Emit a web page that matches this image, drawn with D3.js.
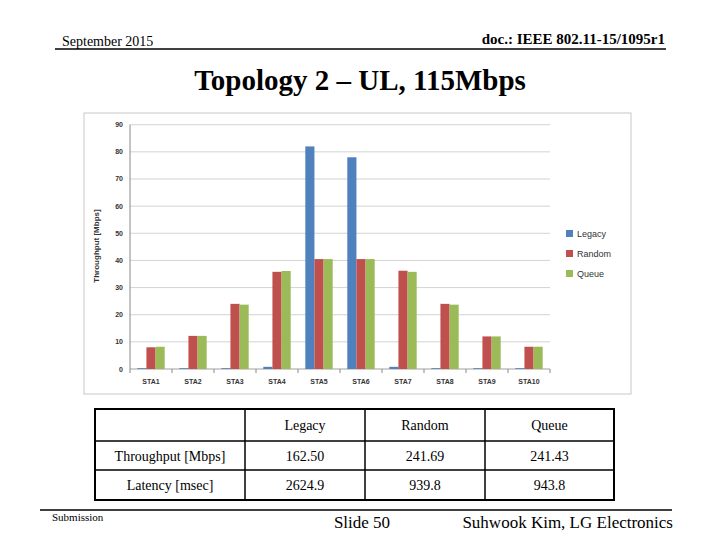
<!DOCTYPE html>
<html><head><meta charset="utf-8">
<script src="https://cdn.jsdelivr.net/npm/d3@7"></script>
<style>body{margin:0;background:#fff}svg{display:block}</style>
</head><body>
<svg id="c" width="720" height="540"></svg>
<script>
var stations = ["STA1","STA2","STA3","STA4","STA5","STA6","STA7","STA8","STA9","STA10"];
var seriesNames = ["Legacy","Random","Queue"];
var seriesColors = ["#4f81bd","#c0504d","#9bbb59"];
var legacy = [0.3,0.3,0.3,0.8,82,78,0.8,0.3,0.3,0.3];
var random = [8,12.2,24,35.8,40.5,40.5,36.2,24,12,8.2];
var queue = [8.2,12.2,23.7,36.1,40.5,40.5,35.8,23.7,12,8.2];
var yTicks = [0,10,20,30,40,50,60,70,80,90];
var tableHeader = ["","Legacy","Random","Queue"];
var tableRows = [["Throughput [Mbps]","162.50","241.69","241.43"],["Latency [msec]","2624.9","939.8","943.8"]];

var svg = d3.select("#c");
var serif = "'Liberation Serif', 'Times New Roman', serif";

// slide header
svg.append("text").attr("x",62).attr("y",46).attr("font-family",serif).attr("font-size",14).text("September 2015");
svg.append("text").attr("x",665).attr("y",44).attr("text-anchor","end").attr("font-family",serif).attr("font-size",15).attr("font-weight","bold").text("doc.: IEEE 802.11-15/1095r1");
svg.append("line").attr("x1",55).attr("x2",666).attr("y1",49).attr("y2",49).attr("stroke","#000").attr("stroke-width",1.5);
svg.append("text").attr("x",360).attr("y",90).attr("text-anchor","middle").attr("font-family",serif).attr("font-size",29).attr("font-weight","bold").text("Topology 2 \u2013 UL, 115Mbps");

// chart frame
svg.append("rect").attr("x",84).attr("y",113).attr("width",547).attr("height",281).attr("fill","#fff").attr("stroke","#c8c8c8");

var x = d3.scaleBand().domain(stations).range([130,550]);
var xs = d3.scaleBand().domain(seriesNames).range([0,x.bandwidth()]).paddingInner(0).paddingOuter(0.8);
var y = d3.scaleLinear().domain([0,90]).range([369,124.7]);

var g = svg.append("g").attr("font-family","Arial, 'Liberation Sans', sans-serif");
g.selectAll(".grid").data(yTicks).enter().append("line")
  .attr("x1",130).attr("x2",550).attr("y1",function(d){return y(d);}).attr("y2",function(d){return y(d);})
  .attr("stroke",function(d){return d==0?"#888":"#c8c8c8";}).attr("stroke-width",0.8);
g.append("line").attr("x1",130).attr("x2",130).attr("y1",124.7).attr("y2",369).attr("stroke","#888");
g.selectAll(".yl").data(yTicks).enter().append("text")
  .attr("x",123).attr("y",function(d){return y(d)+2.5;}).attr("text-anchor","end").attr("font-size",7).attr("font-weight","bold").attr("fill","#333").text(function(d){return d;});
g.selectAll(".xt").data(stations.concat(["end"])).enter().append("line")
  .attr("x1",function(d,i){return 130+i*x.step();}).attr("x2",function(d,i){return 130+i*x.step();})
  .attr("y1",369).attr("y2",373).attr("stroke","#888");
g.selectAll(".xl").data(stations).enter().append("text")
  .attr("x",function(d){return x(d)+x.bandwidth()/2;}).attr("y",384).attr("text-anchor","middle")
  .attr("font-size",7).attr("font-weight","bold").attr("fill","#333").text(function(d){return d;});
g.append("text").attr("transform","translate(99,246) rotate(-90)").attr("text-anchor","middle")
  .attr("font-size",8).attr("font-weight","bold").attr("fill","#333").text("Throughput [Mbps]");

var allSeries = [legacy,random,queue];
allSeries.forEach(function(vals,si){
  g.selectAll(".b"+si).data(vals).enter().append("rect")
    .attr("x",function(d,i){return x(stations[i])+xs(seriesNames[si]);})
    .attr("width",xs.bandwidth())
    .attr("y",function(d){return y(d);})
    .attr("height",function(d){return 369-y(d);})
    .attr("fill",seriesColors[si]);
});

// legend
seriesNames.forEach(function(n,i){
  g.append("rect").attr("x",566).attr("y",230+i*20).attr("width",7).attr("height",7).attr("fill",seriesColors[i]);
  g.append("text").attr("x",577).attr("y",237+i*20).attr("font-size",9).attr("fill","#333").text(n);
});

// table
var cols = [95,245,365,485,614];
var rows = [409,441,470,500];
var tg = svg.append("g").attr("font-family",serif).attr("font-size",14);
tg.append("rect").attr("x",cols[0]).attr("y",rows[0]).attr("width",cols[4]-cols[0]).attr("height",rows[3]-rows[0]).attr("fill","none").attr("stroke","#000").attr("stroke-width",2);
cols.slice(1,4).forEach(function(c){tg.append("line").attr("x1",c).attr("x2",c).attr("y1",rows[0]).attr("y2",rows[3]).attr("stroke","#000").attr("stroke-width",1.5);});
rows.slice(1,3).forEach(function(r){tg.append("line").attr("x1",cols[0]).attr("x2",cols[4]).attr("y1",r).attr("y2",r).attr("stroke","#000").attr("stroke-width",1.5);});
[tableHeader].concat(tableRows).forEach(function(row,ri){
  row.forEach(function(cell,ci){
    tg.append("text").attr("x",(cols[ci]+cols[ci+1])/2).attr("y",(rows[ri]+rows[ri+1])/2+5)
      .attr("text-anchor","middle").text(cell);
  });
});

// footer
svg.append("line").attr("x1",40).attr("x2",672).attr("y1",510).attr("y2",510).attr("stroke","#000").attr("stroke-width",1.5);
svg.append("text").attr("x",52).attr("y",521).attr("font-family",serif).attr("font-size",11).text("Submission");
svg.append("text").attr("x",362).attr("y",528).attr("text-anchor","middle").attr("font-family",serif).attr("font-size",17).text("Slide 50");
svg.append("text").attr("x",673).attr("y",528).attr("text-anchor","end").attr("font-family",serif).attr("font-size",17).text("Suhwook Kim, LG Electronics");
</script>
</body></html>
